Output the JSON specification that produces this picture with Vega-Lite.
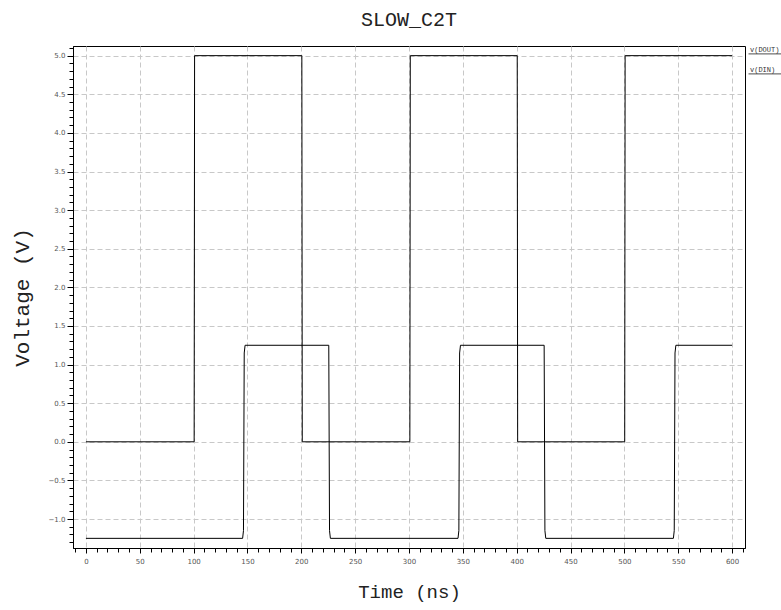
{
  "$schema": "https://vega.github.io/schema/vega-lite/v6.json",
  "width": 672,
  "height": 502,
  "autosize": {"type": "none"},
  "padding": {"left": 73, "top": 46, "right": 36, "bottom": 62},
  "background": "white",
  "title": {"text": "SLOW_C2T", "font": "Liberation Mono", "fontSize": 20, "fontWeight": "normal", "color": "#222", "offset": 14},
  "data": {"values": [
    {"s": "v(DIN)", "t": 0, "v": 0},
    {"s": "v(DIN)", "t": 100.5, "v": 0},
    {"s": "v(DIN)", "t": 100.9, "v": 5},
    {"s": "v(DIN)", "t": 200.5, "v": 5},
    {"s": "v(DIN)", "t": 200.9, "v": 0},
    {"s": "v(DIN)", "t": 300.8, "v": 0},
    {"s": "v(DIN)", "t": 301.2, "v": 5},
    {"s": "v(DIN)", "t": 400.5, "v": 5},
    {"s": "v(DIN)", "t": 400.9, "v": 0},
    {"s": "v(DIN)", "t": 500.3, "v": 0},
    {"s": "v(DIN)", "t": 500.7, "v": 5},
    {"s": "v(DIN)", "t": 600, "v": 5},
    {"s": "v(DOUT)", "t": 0, "v": -1.25},
    {"s": "v(DOUT)", "t": 145.5, "v": -1.25},
    {"s": "v(DOUT)", "t": 146.3, "v": -1.15},
    {"s": "v(DOUT)", "t": 147, "v": 1.15},
    {"s": "v(DOUT)", "t": 147.8, "v": 1.25},
    {"s": "v(DOUT)", "t": 225.5, "v": 1.25},
    {"s": "v(DOUT)", "t": 226.2, "v": -1.15},
    {"s": "v(DOUT)", "t": 227, "v": -1.25},
    {"s": "v(DOUT)", "t": 345.5, "v": -1.25},
    {"s": "v(DOUT)", "t": 346.3, "v": -1.15},
    {"s": "v(DOUT)", "t": 347, "v": 1.15},
    {"s": "v(DOUT)", "t": 347.8, "v": 1.25},
    {"s": "v(DOUT)", "t": 425.5, "v": 1.25},
    {"s": "v(DOUT)", "t": 426.2, "v": -1.15},
    {"s": "v(DOUT)", "t": 427, "v": -1.25},
    {"s": "v(DOUT)", "t": 545.5, "v": -1.25},
    {"s": "v(DOUT)", "t": 546.3, "v": -1.15},
    {"s": "v(DOUT)", "t": 547, "v": 1.15},
    {"s": "v(DOUT)", "t": 547.8, "v": 1.25},
    {"s": "v(DOUT)", "t": 600, "v": 1.25}
  ]},
  "mark": {"type": "line", "strokeWidth": 1, "clip": true},
  "encoding": {
    "x": {
      "field": "t", "type": "quantitative",
      "scale": {"domain": [-12, 612], "nice": false, "zero": false},
      "axis": {
        "title": "Time (ns)",
        "titleFont": "Liberation Mono", "titleFontSize": 19, "titleFontWeight": "normal", "titleColor": "#222", "titlePadding": 18,
        "values": [-10,0,10,20,30,40,50,60,70,80,90,100,110,120,130,140,150,160,170,180,190,200,210,220,230,240,250,260,270,280,290,300,310,320,330,340,350,360,370,380,390,400,410,420,430,440,450,460,470,480,490,500,510,520,530,540,550,560,570,580,590,600,610],
        "labelExpr": "datum.value % 50 == 0 ? format(datum.value, 'd') : ''",
        "labelOverlap": false, "labelFlush": false, "labelBound": false,
        "labelFont": "DejaVu Sans", "labelFontSize": 7, "labelColor": "#555", "labelPadding": 4,
        "tickColor": "black",
        "tickSize": {"condition": {"test": "datum.value % 50 == 0", "value": 5}, "value": 4},
        "domainColor": "black",
        "grid": true, "gridColor": "#c8c8c8", "gridDash": [5, 3],
        "gridOpacity": {"condition": {"test": "datum.value % 50 == 0", "value": 1}, "value": 0}
      }
    },
    "y": {
      "field": "v", "type": "quantitative",
      "scale": {"domain": [-1.375, 5.125], "nice": false, "zero": false},
      "axis": {
        "title": "Voltage (V)",
        "titleFont": "Liberation Mono", "titleFontSize": 21, "titleFontWeight": "normal", "titleColor": "#222", "titlePadding": 16,
        "values": [-1.3,-1.2,-1.1,-1.0,-0.9,-0.8,-0.7,-0.6,-0.5,-0.4,-0.3,-0.2,-0.1,0,0.1,0.2,0.3,0.4,0.5,0.6,0.7,0.8,0.9,1.0,1.1,1.2,1.3,1.4,1.5,1.6,1.7,1.8,1.9,2.0,2.1,2.2,2.3,2.4,2.5,2.6,2.7,2.8,2.9,3.0,3.1,3.2,3.3,3.4,3.5,3.6,3.7,3.8,3.9,4.0,4.1,4.2,4.3,4.4,4.5,4.6,4.7,4.8,4.9,5.0,5.1],
        "labelExpr": "abs(datum.value*2 - round(datum.value*2)) < 0.000001 ? format(datum.value, '.1f') : ''",
        "labelOverlap": false, "labelFlush": false, "labelBound": false,
        "labelFont": "DejaVu Sans", "labelFontSize": 7, "labelColor": "#555", "labelPadding": 2,
        "tickColor": "black",
        "tickSize": {"condition": {"test": "abs(datum.value*2 - round(datum.value*2)) < 0.000001", "value": 6}, "value": 4},
        "domainColor": "black",
        "grid": true, "gridColor": "#c8c8c8", "gridDash": [5, 3],
        "gridOpacity": {"condition": {"test": "abs(datum.value*2 - round(datum.value*2)) < 0.000001", "value": 1}, "value": 0}
      }
    },
    "color": {
      "field": "s", "type": "nominal",
      "scale": {"domain": ["v(DOUT)", "v(DIN)"], "range": ["black", "black"]},
      "legend": {
        "title": null, "orient": "right", "offset": 2, "padding": 0,
        "labelFont": "Liberation Mono", "labelFontSize": 7, "labelColor": "#333",
        "symbolType": "M-1,2.2H15.5", "symbolSize": 16, "symbolStrokeWidth": 0.7,
        "symbolFillColor": "transparent", "labelOffset": -4, "rowPadding": 9
      }
    }
  },
  "config": {
    "view": {"stroke": "black", "strokeWidth": 1}
  }
}
